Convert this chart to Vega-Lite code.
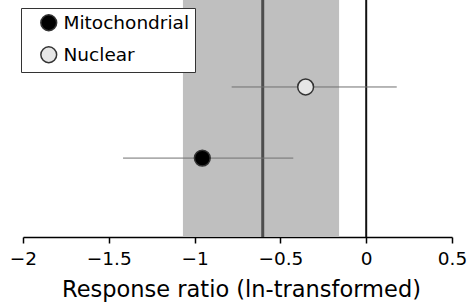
{
  "$schema": "https://vega.github.io/schema/vega-lite/v6.json",
  "autosize": "none",
  "width": 429,
  "height": 237,
  "padding": {"left": 23, "top": 0, "right": 16, "bottom": 66},
  "background": "white",
  "config": {"view": {"stroke": null}, "font": "DejaVu Sans"},
  "datasets": {
    "points": [
      {"group": "Mitochondrial", "mean": -0.955, "lo": -1.417, "hi": -0.425, "pos": 0.333},
      {"group": "Nuclear", "mean": -0.353, "lo": -0.784, "hi": 0.178, "pos": 0.633}
    ],
    "band": [{"lo": -1.068, "hi": -0.158}],
    "lines": [{"x": -0.603, "kind": "overall"}, {"x": 0, "kind": "zero"}]
  },
  "layer": [
    {
      "data": {"name": "band"},
      "mark": {"type": "rect", "color": "#bfbfbf"},
      "encoding": {
        "x": {"field": "lo", "type": "quantitative", "scale": {"domain": [-2, 0.5], "nice": false, "zero": false},
          "axis": {"title": "Response ratio (ln-transformed)", "values": [-2, -1.5, -1, -0.5, 0, 0.5], "format": "~g", "grid": false,
            "domainColor": "black", "domainWidth": 1.5, "tickColor": "black", "tickWidth": 1.5, "tickSize": 6,
            "labelFontSize": 18.5, "labelColor": "black", "labelPadding": 6, "labelFlush": false,
            "titleFontSize": 22.5, "titleFontWeight": "normal", "titleColor": "black", "titlePadding": 11, "titleX": 218}},
        "x2": {"field": "hi"}
      }
    },
    {
      "data": {"name": "lines"},
      "mark": {"type": "rule"},
      "encoding": {
        "x": {"field": "x", "type": "quantitative"},
        "color": {"field": "kind", "type": "nominal", "scale": {"domain": ["overall", "zero"], "range": ["#4d4d4d", "#111111"]}, "legend": null},
        "strokeWidth": {"field": "kind", "type": "nominal", "scale": {"domain": ["overall", "zero"], "range": [3, 2]}, "legend": null}
      }
    },
    {
      "data": {"name": "points"},
      "mark": {"type": "rule", "color": "#707070", "strokeWidth": 1},
      "encoding": {
        "x": {"field": "lo", "type": "quantitative"},
        "x2": {"field": "hi"},
        "y": {"field": "pos", "type": "quantitative", "scale": {"domain": [0, 1]}, "axis": null}
      }
    },
    {
      "data": {"name": "points"},
      "mark": {"type": "point", "filled": true, "size": 250, "stroke": "#333333", "strokeWidth": 1.5, "opacity": 1},
      "encoding": {
        "x": {"field": "mean", "type": "quantitative"},
        "y": {"field": "pos", "type": "quantitative", "scale": {"domain": [0, 1]}, "axis": null},
        "fill": {"field": "group", "type": "nominal", "scale": {"domain": ["Mitochondrial", "Nuclear"], "range": ["#000000", "#e6e6e6"]},
          "legend": {"title": null, "orient": "none", "legendX": -2, "legendY": 8, "fillColor": "white", "strokeColor": "#333333",
            "padding": 5.5, "labelFontSize": 18.5, "labelColor": "black", "symbolSize": 250, "symbolStrokeColor": "#333333", "symbolStrokeWidth": 1.5,
            "symbolType": "circle", "symbolOffset": 13, "labelOffset": 5.5, "rowPadding": 9}}
      }
    }
  ]
}
